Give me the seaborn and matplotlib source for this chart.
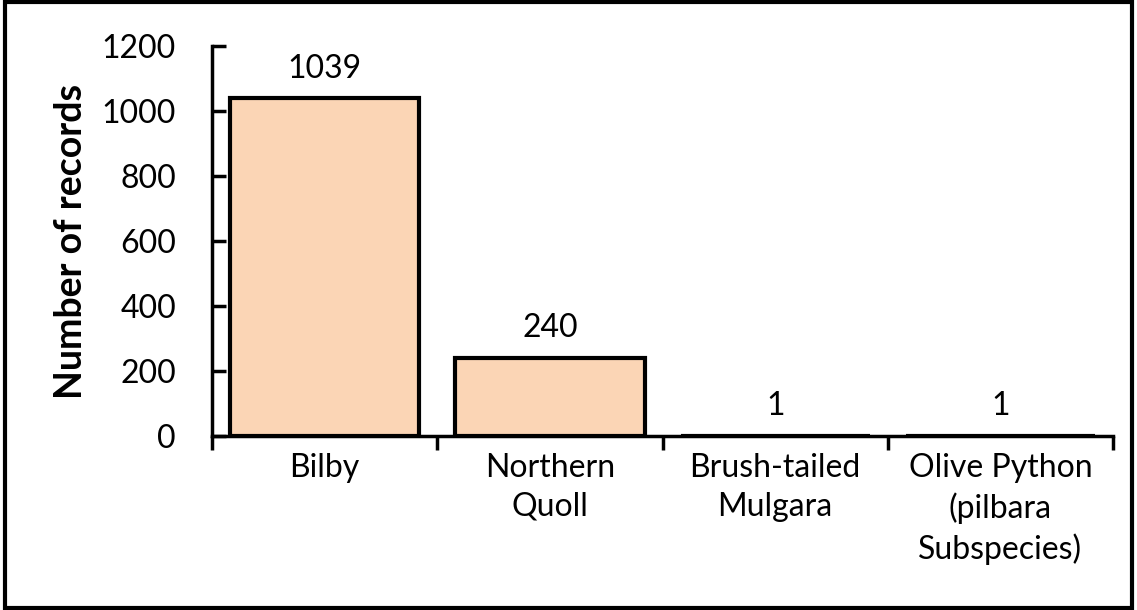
import matplotlib
matplotlib.use("Agg")
import matplotlib.pyplot as plt
import seaborn as sns
import pandas as pd

# Data
species = ["Bilby", "Northern\nQuoll", "Brush-tailed\nMulgara", "Olive Python\n(pilbara\nSubspecies)"]
records = [1039, 240, 1, 1]

df = pd.DataFrame({"species": species, "records": records})

sns.set_theme(style="white")
plt.rcParams['font.family'] = ['Lato', 'DejaVu Sans']
plt.rcParams['text.color'] = 'black'
plt.rcParams['axes.labelcolor'] = 'black'
plt.rcParams['xtick.color'] = 'black'
plt.rcParams['ytick.color'] = 'black'

fig = plt.figure(figsize=(11.37, 6.10), dpi=100)
ax = fig.add_axes([0.1865, 0.2852, 0.7925, 0.6394])

sns.barplot(data=df, x="species", y="records", color="#FBD5B5",
            edgecolor="black", linewidth=3, width=0.84, saturation=1, ax=ax)

# value labels above bars
for i, v in enumerate(records):
    ax.text(i, v + 45, str(v), ha="center", va="bottom", fontsize=23)

ax.set_ylim(0, 1200)
ax.set_xlim(-0.5, len(species) - 0.5)
ax.set_yticks(range(0, 1201, 200))
ax.tick_params(axis="y", direction="in", length=10, width=2.5, labelsize=23, pad=26, left=True)
ax.set_xticks([i - 0.5 for i in range(len(species) + 1)], minor=True)
ax.set_xticks(range(len(species)))
ax.tick_params(axis="x", which="major", length=0, labelsize=23, pad=12)
ax.tick_params(axis="x", which="minor", direction="out", length=10, width=2.5, bottom=True)
for lbl in ax.get_xticklabels():
    lbl.set_linespacing(1.38)

ax.set_xlabel("")
ax.set_ylabel("Number of records", fontsize=27, fontweight="bold", labelpad=10)

for s in ["top", "right"]:
    ax.spines[s].set_visible(False)
for s in ["left", "bottom"]:
    ax.spines[s].set_linewidth(2.5)
    ax.spines[s].set_color("black")

# black border around the whole figure
fig.patches.append(plt.Rectangle((0.004, 0.004), 0.992, 0.992, transform=fig.transFigure,
                                 fill=False, edgecolor="black", linewidth=3))

fig.savefig("out.png", dpi=100)
